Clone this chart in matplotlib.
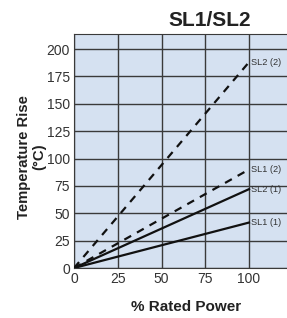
import matplotlib.pyplot as plt

power = [0, 100]
series = ["SL2 (2)", "SL1 (2)", "SL2 (1)", "SL1 (1)"]
rise = [[0, 188], [0, 90], [0, 72], [0, 41.5]]
dashed = [True, True, False, False]
xticks = [0, 25, 50, 75, 100]
yticks = [0, 25, 50, 75, 100, 125, 150, 175, 200]

plt.rcParams['font.family'] = ['Liberation Sans', 'DejaVu Sans']

fig = plt.figure(figsize=(2.87, 3.18), dpi=100)
ax = fig.add_axes([74 / 287, 1 - 268 / 318, 1 - 74 / 287, (268 - 34) / 318])
ax.set_facecolor('#d5e1f1')

for name, vals, d in zip(series, rise, dashed):
    ls = (0, (3.5, 3)) if d else '-'
    ax.plot(power, vals, color='#111111', lw=1.6, ls=ls, zorder=3)
    ax.text(101.4, vals[-1], name, fontsize=6.6, color='#333333', va='center', ha='left')

ax.set_xlim(0, 121.7)
ax.set_ylim(0, 213.7)
ax.set_xticks(xticks)
ax.set_yticks(yticks)
ax.tick_params(length=0, labelsize=10, colors='#333333', pad=3)
ax.grid(True, color='#3a3a3a', lw=1)
for s in ax.spines.values():
    s.set_color('#3a3a3a')
ax.spines['right'].set_visible(False)

fig.text(210 / 287, 1 - 20 / 318, "SL1/SL2", fontsize=15, fontweight='bold',
         ha='center', va='center', color='#222222')
fig.text(186 / 287, 1 - 307 / 318, "% Rated Power", fontsize=11, fontweight='bold',
         ha='center', va='center', color='#222222')
fig.text(32 / 287, 1 - 157 / 318, "Temperature Rise\n(°C)", fontsize=10.7,
         fontweight='bold', ha='center', va='center', rotation=90,
         color='#222222', linespacing=1.1)

fig.savefig('out.png', dpi=100)
